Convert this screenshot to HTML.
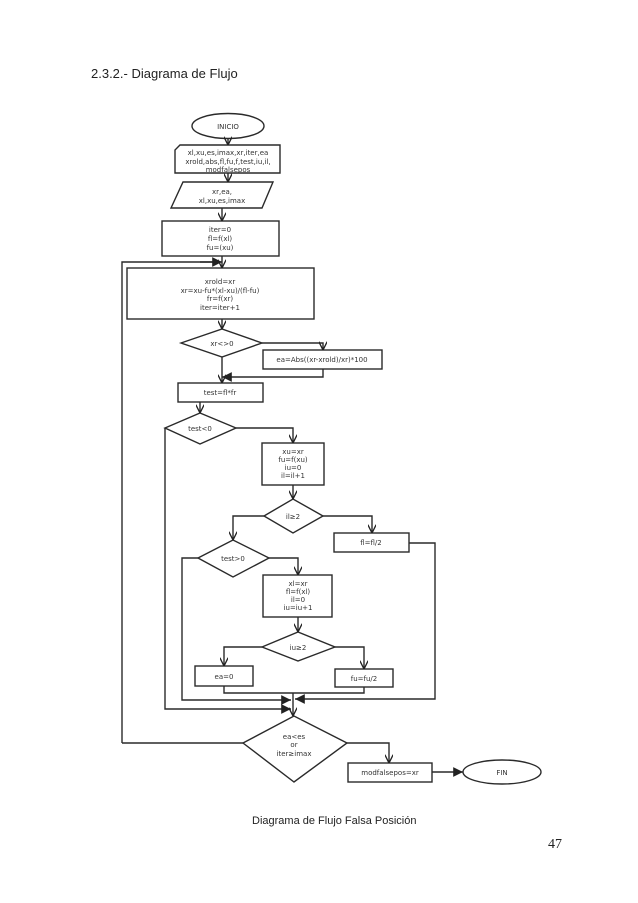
<!DOCTYPE html>
<html><head><meta charset="utf-8"><style>
html,body{margin:0;padding:0;background:#fff;}
svg{display:block;}
.t{font-family:"DejaVu Sans","Liberation Sans",sans-serif;font-size:7px;fill:#333;text-anchor:middle;}
</style></head><body>
<svg width="638" height="903" viewBox="0 0 638 903" xmlns="http://www.w3.org/2000/svg">
<defs>
<marker id="a" viewBox="0 0 10 10" refX="10" refY="5" markerWidth="7" markerHeight="7" orient="auto-start-reverse"><path d="M0,0 L10,5 L0,10 z" fill="#222"/></marker>
<marker id="v" viewBox="0 0 10 10" refX="10" refY="5" markerWidth="6" markerHeight="6" orient="auto"><path d="M0,0 L10,5 L0,10" fill="none" stroke="#222" stroke-width="1.6"/></marker>
</defs>
<text x="91" y="78" font-family="Liberation Sans, sans-serif" font-size="13" fill="#222">2.3.2.- Diagrama de Flujo</text>
<g stroke="#2a2a2a" stroke-width="1.4" fill="none">
<ellipse cx="228" cy="126" rx="36" ry="12.5"/>
<path d="M180,145 L280,145 L280,173 L175,173 L175,150 Z"/>
<path d="M183,182 L273,182 L262,208 L171,208 Z"/>
<rect x="162" y="221" width="117" height="35"/>
<rect x="127" y="268" width="187" height="51"/>
<path d="M181,343 L222,329 L262,343 L222,357 Z"/>
<rect x="263" y="350" width="119" height="19"/>
<rect x="178" y="383" width="85" height="19"/>
<path d="M165,428 L200,413 L236,428 L200,444 Z"/>
<rect x="262" y="443" width="62" height="42"/>
<path d="M264,516 L293,499 L323,516 L293,533 Z"/>
<rect x="334" y="533" width="75" height="19"/>
<path d="M198,558 L233,540 L269,558 L233,577 Z"/>
<rect x="263" y="575" width="69" height="42"/>
<path d="M262,647 L298,632 L335,647 L298,661 Z"/>
<rect x="195" y="666" width="58" height="20"/>
<rect x="335" y="669" width="58" height="18"/>
<path d="M243,743 L294,716 L347,743 L294,782 Z"/>
<rect x="348" y="763" width="84" height="19"/>
<ellipse cx="502" cy="772" rx="39" ry="12"/>
<!-- connectors -->
<path d="M228,138 V145" marker-end="url(#v)"/>
<path d="M228,173 V182" marker-end="url(#v)"/>
<path d="M222,208 V221" marker-end="url(#v)"/>
<path d="M222,256 V268" marker-end="url(#v)"/>
<path d="M122,743 H243 M122,743 V262 H220" />
<path d="M200,262 H222" marker-end="url(#a)"/>
<path d="M222,319 V329" marker-end="url(#v)"/>
<path d="M262,343 H323 V350" marker-end="url(#v)"/>
<path d="M222,357 V383" marker-end="url(#v)"/>
<path d="M323,369 V377 H222" marker-end="url(#a)"/>
<path d="M200,402 V413" marker-end="url(#v)"/>
<path d="M236,428 H293 V443" marker-end="url(#v)"/>
<path d="M293,485 V499" marker-end="url(#v)"/>
<path d="M264,516 H233 V540" marker-end="url(#v)"/>
<path d="M323,516 H372 V533" marker-end="url(#v)"/>
<path d="M409,543 H435 V699 H295" marker-end="url(#a)"/>
<path d="M198,558 H182 V700 H291" marker-end="url(#a)"/>
<path d="M269,558 H298 V575" marker-end="url(#v)"/>
<path d="M298,617 V632" marker-end="url(#v)"/>
<path d="M262,647 H224 V666" marker-end="url(#v)"/>
<path d="M335,647 H364 V669" marker-end="url(#v)"/>
<path d="M224,686 V693 H364 V687"/>
<path d="M165,428 V709 H291" marker-end="url(#a)"/>
<path d="M293,693 V716" marker-end="url(#v)"/>
<path d="M347,743 H389 V763" marker-end="url(#v)"/>
<path d="M432,772 H463" marker-end="url(#a)"/>
</g>
<text class="t" x="228" y="129">INICIO</text>
<text class="t" x="228" y="155">xl,xu,es,imax,xr,iter,ea</text>
<text class="t" x="228" y="164">xrold,abs,fl,fu,f,test,iu,il,</text>
<text class="t" x="228" y="172">modfalsepos</text>
<text class="t" x="222" y="194">xr,ea,</text>
<text class="t" x="222" y="203">xl,xu,es,imax</text>
<text class="t" x="220" y="232">iter=0</text>
<text class="t" x="220" y="241">fl=f(xl)</text>
<text class="t" x="220" y="250">fu=(xu)</text>
<text class="t" x="220" y="284">xrold=xr</text>
<text class="t" x="220" y="293">xr=xu-fu*(xl-xu)/(fl-fu)</text>
<text class="t" x="220" y="301">fr=f(xr)</text>
<text class="t" x="220" y="310">iter=iter+1</text>
<text class="t" x="222" y="346">xr&lt;&gt;0</text>
<text class="t" x="322" y="362">ea=Abs((xr-xrold)/xr)*100</text>
<text class="t" x="220" y="395">test=fl*fr</text>
<text class="t" x="200" y="431">test&lt;0</text>
<text class="t" x="293" y="454">xu=xr</text>
<text class="t" x="293" y="462">fu=f(xu)</text>
<text class="t" x="293" y="470">iu=0</text>
<text class="t" x="293" y="478">il=il+1</text>
<text class="t" x="293" y="519">il≥2</text>
<text class="t" x="371" y="545">fl=fl/2</text>
<text class="t" x="233" y="561">test&gt;0</text>
<text class="t" x="298" y="586">xl=xr</text>
<text class="t" x="298" y="594">fl=f(xl)</text>
<text class="t" x="298" y="602">il=0</text>
<text class="t" x="298" y="610">iu=iu+1</text>
<text class="t" x="298" y="650">iu≥2</text>
<text class="t" x="224" y="679">ea=0</text>
<text class="t" x="364" y="681">fu=fu/2</text>
<text class="t" x="294" y="739">ea&lt;es</text>
<text class="t" x="294" y="747">or</text>
<text class="t" x="294" y="756">iter≥imax</text>
<text class="t" x="390" y="775">modfalsepos=xr</text>
<text class="t" x="502" y="775">FIN</text>
<text x="252" y="824" font-family="Liberation Sans, sans-serif" font-size="11" fill="#222">Diagrama de Flujo Falsa Posición</text>
<text x="548" y="848" font-family="Liberation Serif, serif" font-size="14" fill="#222">47</text>
</svg>
</body></html>
